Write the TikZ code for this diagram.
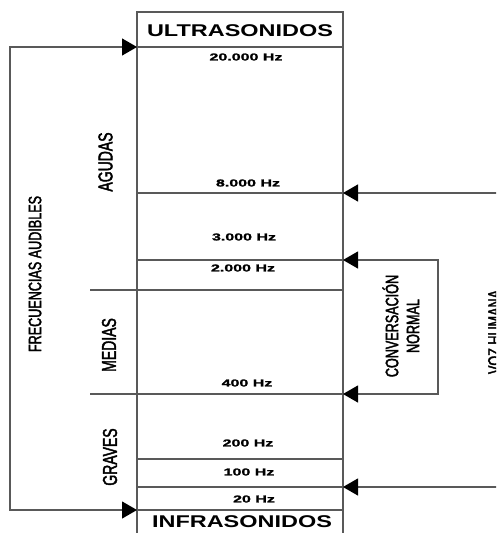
\documentclass[tikz,border=0pt]{standalone}
\usepackage{fontspec}
\setmainfont{Liberation Sans}
\newfontfamily\hzfont[FakeStretch=1.6,FakeBold=1.8]{Liberation Sans}
\newfontfamily\titlefont[FakeStretch=1.38]{Liberation Sans}
\newfontfamily\narrowfont[FakeStretch=0.7,FakeBold=2]{Liberation Sans}
\usetikzlibrary{arrows.meta}
\begin{document}
\begin{tikzpicture}[x=1pt,y=-1pt,
  ln/.style={draw=black!65, line width=1.2pt},
  tips/.style={{Triangle[length=15pt,width=17pt,color=black]}-{Triangle[length=15pt,width=17pt,color=black]}},
  hz/.style={font=\hzfont\bfseries\fontsize{10}{12}\selectfont, inner sep=0pt, text=black},
  ttl/.style={font=\titlefont\bfseries\fontsize{17}{20}\selectfont, inner sep=0pt, text=black},
  band/.style={font=\narrowfont\fontsize{20}{24}\selectfont, inner sep=0pt, rotate=90, text=black},
  sband/.style={font=\narrowfont\fontsize{18}{21}\selectfont, inner sep=0pt, rotate=90, align=center, text=black}
]
\useasboundingbox (0,0) rectangle (496,533);
\clip (0,0) rectangle (496,533);

% column
\coordinate (cTL) at (137,12);
\coordinate (cTR) at (343,12);
\coordinate (cBL) at (137,545);
\coordinate (cBR) at (343,545);
\draw[ln] (cBL) -- (cTL) -- (cTR) -- (cBR);

% separators inside column
\foreach \n/\y in {u/47,a/193,b/260,c/459,d/487,e/510}{
  \coordinate (L\n) at (137,\y);
  \coordinate (R\n) at (343,\y);
  \draw[ln] (L\n) -- (R\n);
}
% band separators (extend left)
\coordinate (mL) at (90,290);
\coordinate (mR) at (343,290);
\coordinate (gL) at (90,394);
\coordinate (gR) at (343,394);
\draw[ln] (mL) -- (mR);
\draw[ln] (gL) -- (gR);

% left bracket: frecuencias audibles
\coordinate (bt) at (10,47);
\coordinate (bb) at (10,510);
\draw[ln,tips] (Lu) -- (bt) -- (bb) -- (Le);

% conversacion normal
\coordinate (kt) at (438,260);
\coordinate (kb) at (438,394);
\draw[ln,tips] (Rb) -- (kt) -- (kb) -- (gR);

% voz humana
\coordinate (vt) at (499,193);
\coordinate (vb) at (499,487);
\draw[ln,tips] (Ra) -- (vt) -- (vb) -- (Rd);

% titles
\node[ttl] (ultra) at (240,31) {ULTRASONIDOS};
\node[ttl] (infra) at (242,522) {INFRASONIDOS};

% frequency labels
\node[hz] (f20000) at (246,57) {20.000 Hz};
\node[hz] (f8000) at (248,183) {8.000 Hz};
\node[hz] (f3000) at (244,237) {3.000 Hz};
\node[hz] (f2000) at (243,268) {2.000 Hz};
\node[hz] (f400) at (247,383) {400 Hz};
\node[hz] (f200) at (248,443) {200 Hz};
\node[hz] (f100) at (249,472) {100 Hz};
\node[hz] (f20) at (254,499) {20 Hz};

% band labels
\node[band] (agudas) at (105.5,162) {AGUDAS};
\node[band] (medias) at (109,345) {MEDIAS};
\node[band] (graves) at (110,457) {GRAVES};
\node[sband] (audibles) at (35,274) {FRECUENCIAS AUDIBLES};
\node[sband] (conv) at (401,326) {CONVERSACIÓN\\NORMAL};
\node[sband] (voz) at (494.5,332) {VOZ HUMANA};
\end{tikzpicture}
\end{document}
